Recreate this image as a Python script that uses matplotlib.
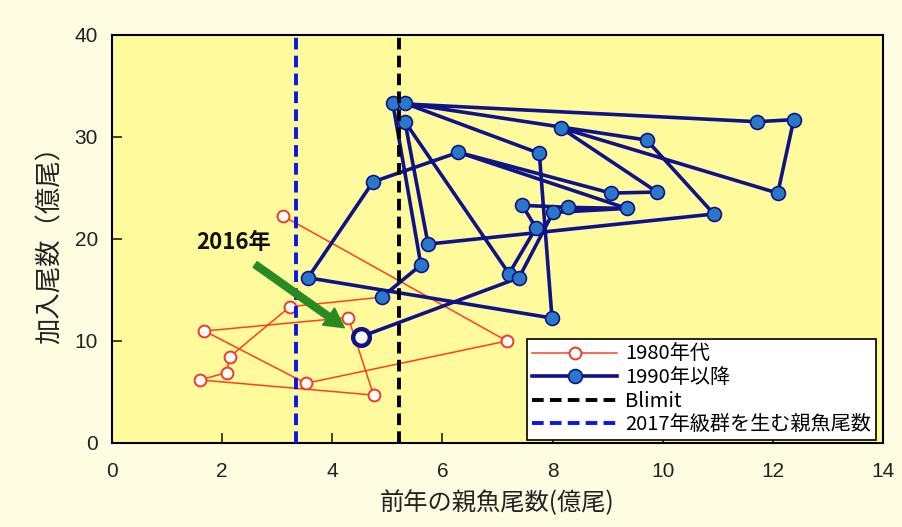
import matplotlib
matplotlib.use("Agg")
from matplotlib import pyplot as plt
import numpy as np

# -----------------------------------------------
# DATA

# 1980s: previous-year spawners (x) and recruits (y), 100 million fish
x_1980s = [3.11, 7.17, 3.52, 1.68, 4.29, 4.75, 1.60, 2.08, 2.14, 3.23, 4.90]
y_1980s = [22.25, 10.0, 5.85, 10.98, 12.3, 4.7, 6.18, 6.9, 8.46, 13.36, 14.3]

# 1990 onward, path order
x_1990s = [4.90, 5.61, 5.10, 11.71, 12.38, 12.09, 8.15, 9.90, 9.06, 6.29,
           4.74, 3.56, 7.99, 7.76, 5.32, 9.71, 10.93, 5.74, 5.32, 7.21,
           7.70, 7.45, 8.28, 9.35, 8.01, 7.39, 4.52]
y_1990s = [14.3, 17.45, 33.3, 31.5, 31.7, 24.5, 30.9, 24.6, 24.5, 28.5,
           25.6, 16.2, 12.25, 28.4, 33.3, 29.7, 22.45, 19.5, 31.5, 16.6,
           21.1, 23.3, 23.1, 23.0, 22.6, 16.2, 10.42]
# extra link drawn between two points of the path (indices)
extra_link = [9, 23]

blimit = 5.22
ssb_2017 = 3.35

x_ticks = [0, 2, 4, 6, 8, 10, 12, 14]
y_ticks = [0, 10, 20, 30, 40]

legend_labels = ["1980年代", "1990年以降", "Blimit", "2017年級群を生む親魚尾数"]

# -----------------------------------------------
# PLOT
plt.rcParams['font.family'] = ['Liberation Sans', 'Noto Sans CJK JP', 'DejaVu Sans']
jp = ['Noto Sans CJK JP', 'DejaVu Sans']

fig = plt.figure(figsize=(9.03, 5.27), dpi=100)
fig.patch.set_facecolor('#FEFDE2')
ax = fig.add_axes([0.124, 0.1594, 0.8538, 0.7742])
ax.set_facecolor('#FFFA9C')

navy = '#10128A'
ax.plot(x_1980s, y_1980s, color='#FF4020', lw=1.1, marker='o', ms=8.5,
        mfc='white', mec='#F03A2A', mew=1.4, zorder=3, label=legend_labels[0])
ax.plot(x_1990s, y_1990s, color=navy, lw=2.6, marker='o', ms=10,
        mfc='#2A78C8', mec=navy, mew=1.2, zorder=4, label=legend_labels[1])
i, j = extra_link
ax.plot([x_1990s[i], x_1990s[j]], [y_1990s[i], y_1990s[j]],
        color=navy, lw=2.6, zorder=3.9)
# 2016 point
ax.plot(x_1990s[-1], y_1990s[-1], marker='o', ms=12, mfc='white', mec=navy,
        mew=3.2, zorder=5)

ax.axvline(blimit, color='black', lw=2.8, ls=(0, (3, 1.6)), zorder=6,
           label=legend_labels[2])
ax.axvline(ssb_2017, color='#0A14F0', lw=2.8, ls=(0, (3, 1.6)), zorder=6,
           label=legend_labels[3])

ax.annotate('', xy=(4.22, 11.3), xytext=(2.6, 17.5),
            arrowprops=dict(color='#2A8A22', width=5, headwidth=15,
                            headlength=14, shrink=0), zorder=7)
ax.text(2.2, 19.7, "2016年", fontsize=16, fontweight='bold', ha='center',
        va='center', family=jp, color='#111111')

ax.set_xlim(0, 14)
ax.set_ylim(0, 40)
ax.set_xticks(x_ticks)
ax.set_yticks(y_ticks)
ax.tick_params(direction='in', length=7, width=1.2, labelsize=15,
               colors='#222222')
ax.tick_params(axis='x', pad=14)
ax.tick_params(axis='y', pad=10)
for s in ax.spines.values():
    s.set_linewidth(1.5)

ax.set_xlabel("前年の親魚尾数(億尾)", fontsize=17.5, labelpad=6, family=jp,
              color='#222222')
ax.set_ylabel("加入尾数（億尾）", fontsize=19, labelpad=8, family=jp,
              color='#222222')

leg = ax.legend(loc='lower right', bbox_to_anchor=(0.970, 0.165),
                bbox_transform=fig.transFigure, borderaxespad=0,
                fancybox=False, framealpha=1, edgecolor='black',
                handlelength=4.2, handletextpad=0.4, labelspacing=0.12,
                borderpad=0.25, prop={'family': jp, 'size': 14.5})
leg.get_frame().set_linewidth(1.2)
leg.set_zorder(10)

fig.savefig("out.png", dpi=100, facecolor=fig.get_facecolor())
